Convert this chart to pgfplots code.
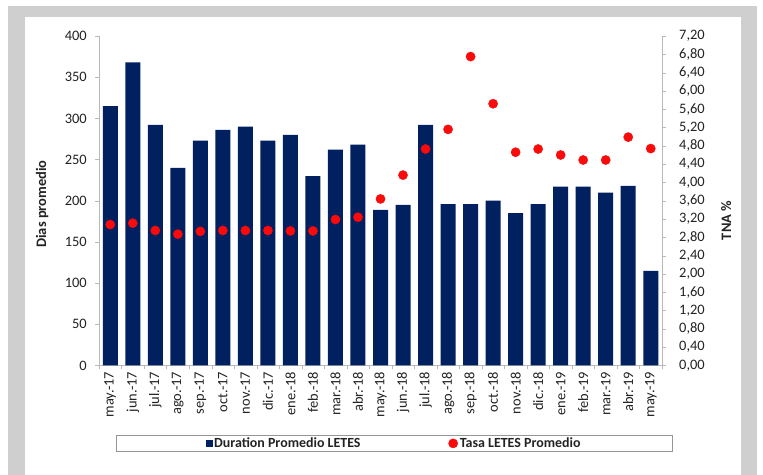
\documentclass[border=0pt]{standalone}
\usepackage{pgfplots}
\pgfplotsset{compat=1.18}
\usepackage{pgfplotstable}
\usepackage{fontspec}
\setmainfont{Carlito}

\definecolor{barblue}{RGB}{0,32,96}
\definecolor{dotred}{RGB}{250,10,10}
\definecolor{framegray}{RGB}{208,207,207}
\definecolor{axisgray}{RGB}{185,185,185}
\definecolor{legendgray}{RGB}{150,150,150}
\definecolor{txt}{RGB}{35,35,35}

% Monthly LETES: average duration (days) and average rate (TNA %)
\pgfplotstableread{
idx dur tasa
0  315 3.08
1  368 3.11
2  292 2.95
3  240 2.87
4  273 2.93
5  286 2.95
6  290 2.95
7  273 2.95
8  280 2.94
9  230 2.94
10 262 3.19
11 268 3.24
12 189 3.64
13 195 4.16
14 292 4.73
15 196 5.16
16 196 6.75
17 200 5.72
18 185 4.66
19 196 4.73
20 217 4.60
21 217 4.49
22 210 4.49
23 218 4.99
24 115 4.74
}\letesdata

\newcommand{\tickfont}{\fontsize{14.5}{16}\selectfont\color{txt}}

\begin{document}
\begin{tikzpicture}[x=1bp,y=1bp]
\useasboundingbox (0,0) rectangle (763,475);
% panel frame
\fill[framegray] (8,-10) rectangle (757,469);
\fill[white] (25,-10) rectangle (741,458);

\pgfplotsset{
  commonaxis/.style={
    at={(99bp,109.5bp)}, anchor=south west,
    width=563bp, height=329.5bp, scale only axis,
    xmin=-0.5, xmax=24.5,
    axis line style={axisgray},
    tick style={axisgray},
    tick align=outside,
    major tick length=4bp,
    minor tick length=4bp,
    /pgf/number format/assume math mode=true,
    ticklabel style={font=\tickfont},
  }
}

\begin{axis}[
  commonaxis,
  ymin=0, ymax=400,
  axis x line*=bottom, axis y line*=left,
  ytick={0,50,...,400},
  xtick={0,...,24},
  xticklabels={may.-17,jun.-17,jul.-17,ago.-17,sep.-17,oct.-17,nov.-17,dic.-17,ene.-18,feb.-18,mar.-18,abr.-18,may.-18,jun.-18,jul.-18,ago.-18,sep.-18,oct.-18,nov.-18,dic.-18,ene.-19,feb.-19,mar.-19,abr.-19,may.-19},
  major x tick style={draw=none},
  minor xtick={-0.5,0.5,...,24.5},
  xticklabel style={rotate=90, anchor=east, inner xsep=2bp},
  yticklabel style={inner xsep=8bp},
  ylabel={\fontsize{14.5}{16}\selectfont\bfseries Dias promedio},
  ylabel style={at={(axis description cs:-0.101,0.49)}, anchor=center, color=txt},
]
\addplot[ybar, bar width=15bp, fill=barblue, draw=none] table[x=idx, y=dur] {\letesdata};
\end{axis}

\begin{axis}[
  commonaxis,
  ymin=0, ymax=7.2,
  axis x line=none, axis y line*=right,
  ytick={0,0.4,0.8,1.2,1.6,2.0,2.4,2.8,3.2,3.6,4.0,4.4,4.8,5.2,5.6,6.0,6.4,6.8,7.2},
  yticklabel style={inner xsep=13bp, /pgf/number format/.cd, fixed, fixed zerofill, precision=2, use comma},
  ylabel={\fontsize{14.5}{16}\selectfont\bfseries TNA \%},
  ylabel style={at={(axis description cs:1.114,0.44)}, anchor=center, color=txt},
  legend columns=2,
  legend style={
    at={(axis description cs:0.030,-0.211)}, anchor=north west,
    draw=legendgray, fill=white, inner xsep=90bp, inner ysep=0.5bp,
    font=\fontsize{14}{15}\selectfont\bfseries\color{txt},
    /tikz/every even column/.append style={column sep=86bp},
  },
]
\addlegendimage{only marks, mark=square*, mark size=3bp, color=barblue}
\addlegendentry{Duration Promedio LETES}
\addplot[only marks, mark=*, mark size=4.6bp, color=dotred] table[x=idx, y=tasa] {\letesdata};
\addlegendentry{Tasa LETES Promedio}
\end{axis}
\end{tikzpicture}
\end{document}
